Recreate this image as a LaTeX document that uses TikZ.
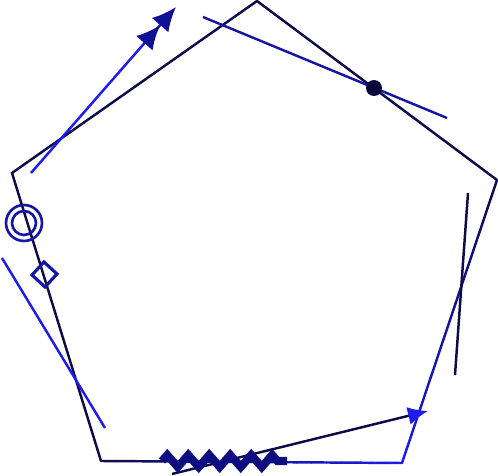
\documentclass[tikz,border=0pt]{standalone}
\usepackage{xcolor}
\usetikzlibrary{arrows.meta,calc,decorations.pathmorphing}
\definecolor{navyline}{RGB}{12,12,72}
\definecolor{brightblue}{RGB}{28,28,238}
\definecolor{midblue}{RGB}{22,22,165}
\definecolor{tipblue}{RGB}{16,16,150}
\definecolor{zigblue}{RGB}{14,14,128}
\definecolor{dotnavy}{RGB}{6,6,60}

\begin{document}
\begin{tikzpicture}[
  x=0.02cm, y=-0.02cm,
  edge/.style={draw=navyline, line width=1.4pt},
  guide/.style={draw=brightblue, line width=1.4pt},
  mark line/.style={draw=midblue, line width=1.5pt},
  zigline/.style={draw=zigblue, line width=4.6pt, line join=miter,
    decorate, decoration={zigzag, segment length=0.42cm, amplitude=0.12cm}}
]
\useasboundingbox (0,0) rectangle (498,476);

% pentagon corners
\coordinate (top) at (257,1);
\coordinate (right) at (497,180);
\coordinate (lowright) at (402,463);
\coordinate (lowleft) at (101,461);
\coordinate (left) at (12,173);

\draw[edge, line join=miter] (lowleft) -- (left) -- (top) -- (right);
% shaded lower edges
\foreach \i in {0,...,19} {
  \pgfmathsetmacro{\a}{\i/20}
  \pgfmathsetmacro{\b}{(\i+1)/20}
  \pgfmathsetmacro{\c}{\i*5+2.5}
  \draw[line width=1.4pt, line cap=round, draw=brightblue!\c!navyline]
    ($(right)!\a!(lowright)$) -- ($(right)!\b!(lowright)$);
  \draw[line width=1.4pt, line cap=round, draw=brightblue!\c!navyline]
    ($(lowleft)!\a!(lowright)$) -- ($(lowleft)!\b!(lowright)$);
}

% lines around the pentagon
\coordinate (arrA) at (31,173);
\coordinate (arrB) at (176,7);
\draw[guide, -{Latex[length=0.48cm,width=0.44cm,color=tipblue]Latex[length=0.48cm,width=0.44cm,color=tipblue]}] (arrA) -- (arrB);

\coordinate (tanA) at (203,17);
\coordinate (tanB) at (447,118);
\draw[draw=midblue, line width=1.4pt] (tanA) -- (tanB);
\fill[dotnavy] (374,88) circle[radius=0.16cm];

\coordinate (vertA) at (468,193);
\coordinate (vertB) at (455,375);
\draw[edge] (vertA) -- (vertB);

\coordinate (slantA) at (2,258);
\coordinate (slantB) at (105,428);
\draw[guide] (slantA) -- (slantB);

\coordinate (lowA) at (172,474);
\coordinate (lowB) at (428,411);
\draw[edge, -{Latex[length=0.4cm,width=0.36cm,color=brightblue]}] (lowA) -- (lowB);

% marks on the edges
\coordinate (zigA) at (162,461);
\coordinate (zigB) at (287,461);
\draw[zigline] (zigA) -- (zigB);

\draw[mark line] (24,223) circle[radius=0.36cm];
\draw[mark line] (24,223) circle[radius=0.24cm];
\draw[mark line, line width=1.8pt] (44,262) -- (57,274) -- (45,287) -- (32,275) -- cycle;
\end{tikzpicture}
\end{document}
